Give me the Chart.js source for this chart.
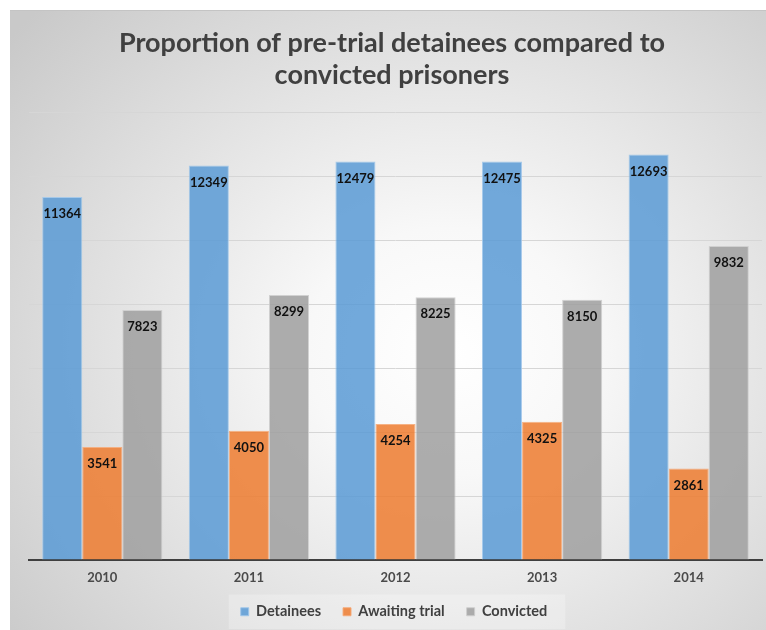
<!DOCTYPE html>
<html>
<head>
  <title>Pre-trial detainees vs convicted prisoners</title>
  <script src="https://cdn.jsdelivr.net/npm/chart.js"></script>
  <style>
    html, body { margin: 0; padding: 0; background: #fff; }
    #frame {
      position: absolute; left: 10px; top: 10px; width: 756px; height: 620px;
      background: radial-gradient(ellipse 75% 80% at 58% 55%, #ffffff 0%, #f8f8f8 25%, #dcdcdc 70%, #c9c9c9 100%);
      border-top: 1px solid #c4c4c4;
      box-sizing: border-box;
    }
    #chart { display: block; }
  </style>
</head>
<body>
  <div id="frame">
    <canvas id="chart" width="756" height="619"></canvas>
  </div>

  <script>
    const years = ['2010', '2011', '2012', '2013', '2014'];
    const detainees = [11364, 12349, 12479, 12475, 12693];
    const awaitingTrial = [3541, 4050, 4254, 4325, 2861];
    const convicted = [7823, 8299, 8225, 8150, 9832];
    const yMax = 14000;
    const yStep = 2000;

    Chart.defaults.font.family = 'Lato, "Open Sans", sans-serif';

    // numbers written inside the top of each bar
    const barLabels = {
      id: 'barLabels',
      afterDatasetsDraw(chart) {
        const ctx = chart.ctx;
        ctx.save();
        ctx.font = 'bold 13px Lato';
        ctx.fillStyle = '#111';
        ctx.textAlign = 'center';
        ctx.textBaseline = 'middle';
        chart.data.datasets.forEach((ds, i) => {
          chart.getDatasetMeta(i).data.forEach((bar, j) => {
            ctx.fillText(ds.data[j], bar.x, bar.y + 17);
          });
        });
        ctx.restore();
      }
    };

    // small nudges so title and legend sit where the original has them
    const nudge = {
      id: 'nudge',
      afterLayout(chart) {
        const lg = chart.legend;
        lg.left += 8; lg.right += 8;
        lg.top -= 5; lg.bottom -= 5;
        chart.titleBlock.left += 6;
        chart.titleBlock.right += 6;
      }
    };

    // faint box behind the legend
    const legendBox = {
      id: 'legendBox',
      beforeDraw(chart) {
        const items = chart.legend ? chart.legend.legendHitBoxes : [];
        if (!items.length) return;
        const x0 = items[0].left - 12;
        const last = items[items.length - 1];
        const x1 = last.left + last.width + 18;
        const ctx = chart.ctx;
        ctx.save();
        ctx.fillStyle = 'rgba(255,255,255,0.25)';
        ctx.fillRect(x0, items[0].top - 10, x1 - x0, items[0].height + 20);
        ctx.restore();
      }
    };

    new Chart(document.getElementById('chart'), {
      type: 'bar',
      data: {
        labels: years,
        datasets: [
          {
            label: 'Detainees',
            data: detainees,
            backgroundColor: 'rgba(91,155,213,0.86)',
            borderColor: 'rgba(160,198,234,0.9)',
            borderWidth: 1
          },
          {
            label: 'Awaiting trial',
            data: awaitingTrial,
            backgroundColor: 'rgba(237,125,49,0.86)',
            borderColor: 'rgba(245,170,120,0.9)',
            borderWidth: 1
          },
          {
            label: 'Convicted',
            data: convicted,
            backgroundColor: 'rgba(160,160,160,0.86)',
            borderColor: 'rgba(205,205,205,0.9)',
            borderWidth: 1
          }
        ]
      },
      options: {
        responsive: false,
        animation: false,
        datasets: {
          bar: { categoryPercentage: 0.82, barPercentage: 1 }
        },
        layout: { padding: { left: 0, right: 4, top: 0, bottom: -4 } },
        plugins: {
          title: {
            display: true,
            text: ['Proportion of pre-trial detainees compared to', 'convicted prisoners'],
            color: '#404040',
            font: { size: 27, weight: 'bold' },
            lineHeight: 1.2,
            padding: { top: 16, bottom: 21 }
          },
          legend: {
            position: 'bottom',
            labels: {
              color: '#404040',
              font: { size: 14.5, weight: 'bold' },
              boxWidth: 8,
              boxHeight: 8,
              padding: 22
            }
          },
          tooltip: { enabled: false }
        },
        scales: {
          x: {
            grid: { display: false },
            border: { color: '#3f3f3f', width: 2 },
            ticks: { color: '#4a4a4a', font: { size: 13, weight: 'bold' }, padding: 2 },
            afterFit(scale) { scale.height = 27.5; }
          },
          y: {
            min: 0,
            max: yMax,
            ticks: { display: false, stepSize: yStep },
            grid: { color: '#d6d6d6', lineWidth: 1, drawTicks: false },
            border: { display: false },
            afterFit(scale) { scale.width = 19; }
          }
        }
      },
      plugins: [nudge, legendBox, barLabels]
    });
  </script>
</body>
</html>
